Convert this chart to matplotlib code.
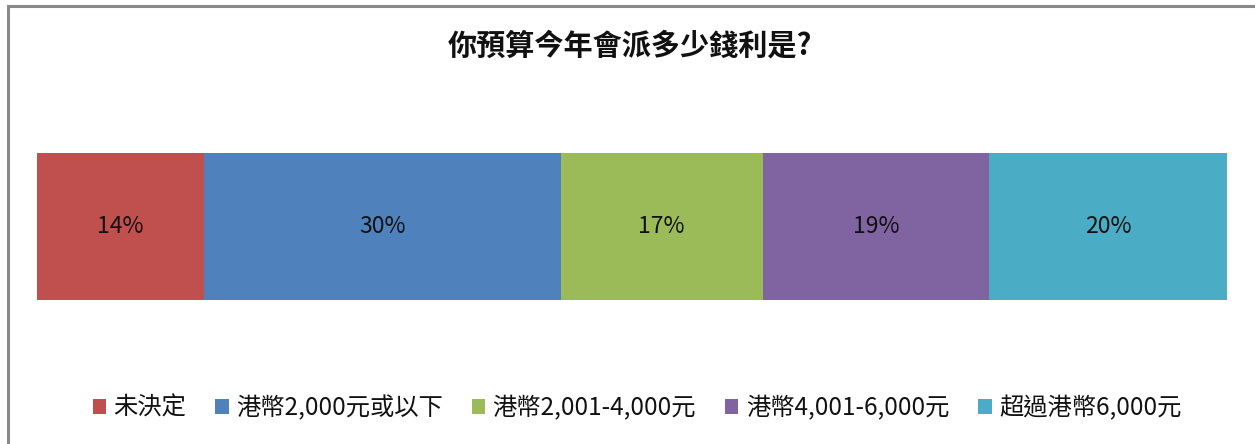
import matplotlib
matplotlib.use("Agg")
import matplotlib.pyplot as plt
from matplotlib.patches import Rectangle, Patch

plt.rcParams["font.family"] = ["Noto Sans CJK TC", "DejaVu Sans"]

TITLE = "你預算今年會派多少錢利是?"
CATEGORIES = ["未決定", "港幣2,000元或以下", "港幣2,001-4,000元",
              "港幣4,001-6,000元", "超過港幣6,000元"]
SHARES = [14, 30, 17, 19, 20]
COLORS = ["#C0504D", "#4F81BD", "#9BBB59", "#8064A2", "#4BACC6"]

W, H = 1255, 444
fig = plt.figure(figsize=(W / 100, H / 100), dpi=100)
fig.patch.set_facecolor("white")

# chart frame (only left/top edges visible in the crop)
fig.patches.append(Rectangle((8 / W, -0.1), 1.2, 1 - 6 / H + 0.1,
                             transform=fig.transFigure, fill=False,
                             edgecolor="#8a8a8a", linewidth=2.2))

ax = fig.add_axes([37 / W, (H - 300) / H, (1227 - 37) / W, (300 - 153) / H])
left = 0
for val, col in zip(SHARES, COLORS):
    ax.barh(0, val, left=left, height=1.0, color=col, edgecolor="none")
    ax.text(left + val / 2, 0, f"{val}%", ha="center", va="center",
            fontsize=16.5, color="#111111")
    left += val
ax.set_xlim(0, sum(SHARES))
ax.set_ylim(-0.5, 0.5)
ax.axis("off")

fig.text(630 / W, 1 - 45 / H, TITLE, ha="center", va="center",
         fontsize=21, fontweight="bold", color="#111111")

handles = [Patch(facecolor=c, edgecolor="none") for c in COLORS]
fig.legend(handles, CATEGORIES, loc="center", bbox_to_anchor=(637 / W, 1 - 408 / H),
           ncol=5, frameon=False, fontsize=17.5, handlelength=0.55, handleheight=0.55,
           handletextpad=0.3, columnspacing=1.2, labelcolor="#111111")

fig.savefig("out.png", dpi=100, facecolor="white")
